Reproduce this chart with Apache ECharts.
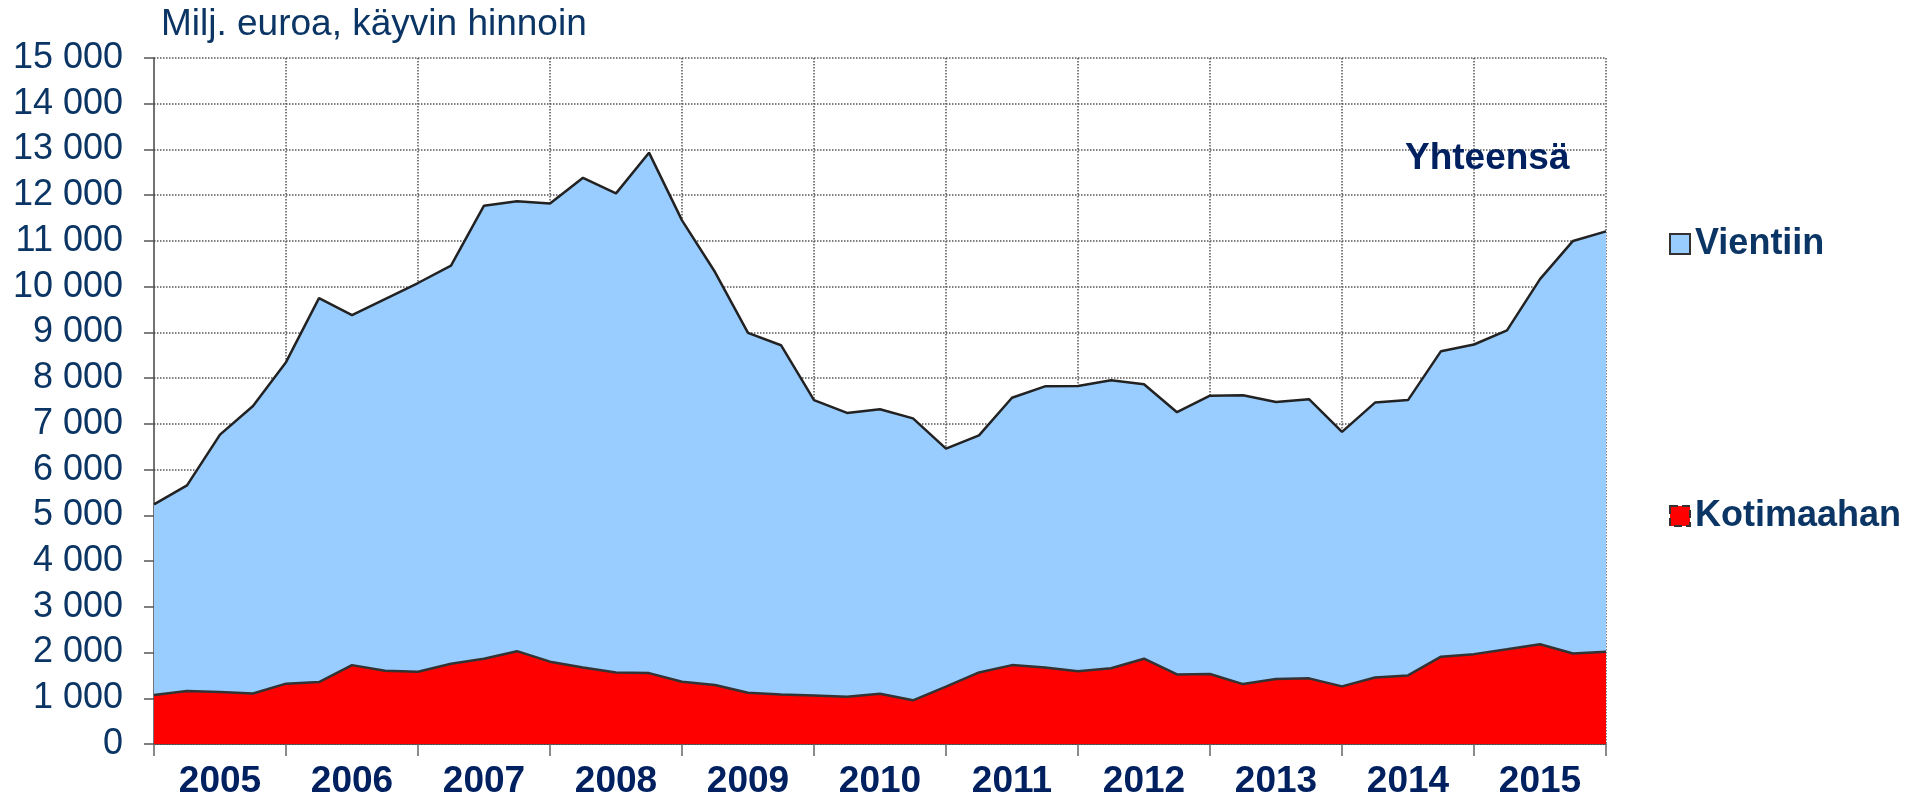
<!DOCTYPE html>
<html>
<head>
<meta charset="utf-8">
<title>Vienti ja kotimaa</title>
<script src="https://cdn.jsdelivr.net/npm/echarts@6/dist/echarts.min.js"></script>
<style>
    html, body { margin: 0; padding: 0; background: #fff; }
    #chart { width: 1922px; height: 797px; }
</style>
</head>
<body>
<div id="chart"></div>
<script>
// vuodet ja neljännekset (viimeinen piste = 2016 Q1 oikeassa reunassa)
var years = [2005, 2006, 2007, 2008, 2009, 2010, 2011, 2012, 2013, 2014, 2015];

// yhteensä, milj. euroa
var totalValues = [
    5240, 5655, 6765, 7390, 8350, 9750, 9380, 9730,
    10080, 10460, 11770, 11870, 11820, 12380, 12040, 12930,
    11450, 10320, 8990, 8720, 7520, 7240, 7320, 7120,
    6460, 6750, 7570, 7820, 7830, 7955, 7865, 7255,
    7615, 7625, 7480, 7540, 6825, 7465, 7520, 8590,
    8735, 9045, 10165, 11000, 11210
];

// kotimaahan, milj. euroa
var domesticValues = [
    1070, 1160, 1135, 1105, 1320, 1355, 1725, 1600,
    1580, 1755, 1865, 2030, 1800, 1675, 1565, 1550,
    1360, 1290, 1120, 1085, 1063, 1035, 1100, 955,
    1255, 1565, 1725, 1675, 1590, 1655, 1865, 1520,
    1530, 1310, 1420, 1435, 1260, 1455, 1500, 1910,
    1965, 2070, 2180, 1980, 2015
];

var yTicks = { min: 0, max: 15000, step: 1000 };

var chartMgr = {

    buildCategories: function () {
        var cats = [];
        years.forEach(function (y) {
            for (var q = 1; q <= 4; q++) {
                cats.push(y + 'Q' + q);
            }
        });
        cats.push((years[years.length - 1] + 1) + 'Q1');
        return cats;
    },

    exportValues: function () {
        return totalValues.map(function (t, i) {
            return t - domesticValues[i];
        });
    },

    init: function () {
        var myChart = echarts.init(document.getElementById('chart'));
        var font = "'Liberation Sans', Arial, sans-serif";
        var navy = '#0b3564';

        var option = {
            animation: false,
            textStyle: { fontFamily: font },
            title: [
                {
                    text: 'Milj. euroa, käyvin hinnoin',
                    left: 156,
                    top: 1,
                    textStyle: { color: navy, fontSize: 37, fontWeight: 'normal', fontFamily: font }
                },
                {
                    text: 'Yhteensä',
                    left: 1400,
                    top: 135,
                    textStyle: { color: '#002060', fontSize: 37, fontWeight: 'bold', fontFamily: font }
                }
            ],
            legend: {
                orient: 'vertical',
                left: 1664,
                top: 221,
                itemGap: 236,
                itemWidth: 20,
                itemHeight: 20,
                icon: 'rect',
                textStyle: { color: navy, fontSize: 36, fontWeight: 'bold', fontFamily: font },
                data: [
                    { name: 'Vientiin', itemStyle: { color: '#99ccff', borderColor: '#333', borderWidth: 2 } },
                    { name: 'Kotimaahan', itemStyle: { color: '#ff0000', borderColor: '#333', borderWidth: 2, borderType: 'dashed' } }
                ]
            },
            grid: {
                left: 154,
                right: 316,
                top: 58,
                bottom: 53,
                containLabel: false,
                outerBoundsMode: 'none'
            },
            xAxis: {
                type: 'category',
                boundaryGap: false,
                data: chartMgr.buildCategories(),
                axisLine: { show: true, lineStyle: { color: '#333', width: 1.5 } },
                axisTick: {
                    show: true,
                    length: 12,
                    interval: function (index) { return index % 4 === 0; },
                    lineStyle: { color: '#666', width: 1.5 }
                },
                axisLabel: {
                    interval: function (index) { return index % 4 === 2; },
                    formatter: function (value) { return value.slice(0, 4); },
                    color: '#002060',
                    fontSize: 37,
                    fontWeight: 'bold',
                    fontFamily: font,
                    margin: 19
                },
                splitLine: {
                    show: true,
                    interval: function (index) { return index % 4 === 0 && index > 0; },
                    lineStyle: { color: '#555', type: 'dotted', width: 1.5 }
                }
            },
            yAxis: {
                type: 'value',
                min: yTicks.min,
                max: yTicks.max,
                interval: yTicks.step,
                axisLine: { show: true, lineStyle: { color: '#444', width: 1.5 } },
                axisTick: { show: true, length: 10, lineStyle: { color: '#555', width: 1.5 } },
                axisLabel: {
                    color: navy,
                    fontSize: 36,
                    fontFamily: font,
                    margin: 31,
                    formatter: function (v) {
                        return String(v).replace(/\B(?=(\d{3})+(?!\d))/g, ' ');
                    }
                },
                splitLine: {
                    show: true,
                    lineStyle: { color: '#555', type: 'dotted', width: 1.5 }
                }
            },
            series: [
                {
                    name: 'Kotimaahan',
                    type: 'line',
                    stack: 'total',
                    showSymbol: false,
                    z: 3,
                    data: domesticValues,
                    lineStyle: { color: '#333', width: 2.5 },
                    itemStyle: { color: '#ff0000' },
                    areaStyle: { color: '#ff0000', opacity: 1 }
                },
                {
                    name: 'Vientiin',
                    type: 'line',
                    stack: 'total',
                    showSymbol: false,
                    z: 2,
                    data: chartMgr.exportValues(),
                    lineStyle: { color: '#222', width: 2.5 },
                    itemStyle: { color: '#99ccff' },
                    areaStyle: { color: '#99ccff', opacity: 1 }
                }
            ]
        };

        myChart.setOption(option);
    }
};

chartMgr.init();
</script>
</body>
</html>
